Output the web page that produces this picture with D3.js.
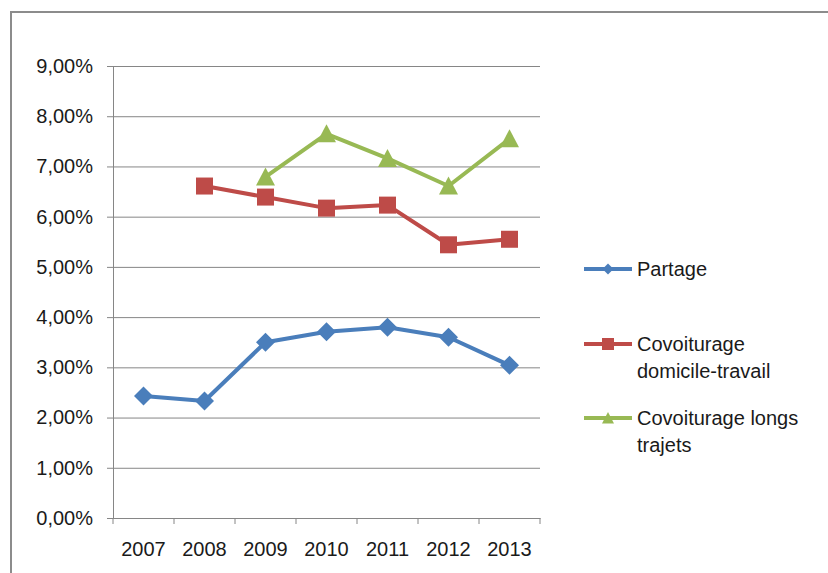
<!DOCTYPE html>
<html>
  <head>
    <meta charset="utf-8">
    <script src="https://d3js.org/d3.v7.min.js"></script>
    <style>
      body { margin: 0; background: #fff; }
      text { font-family: "Liberation Sans", Arial, sans-serif; fill: #1a1a1a; }
      .axis path { stroke: #868686; }
      .axis line { stroke: #868686; }
      .gridline line { stroke: #868686; }
      .gridline path { display: none; }
    </style>
  </head>
  <body>
    <script>
      var years = ["2007", "2008", "2009", "2010", "2011", "2012", "2013"];
      var partage = [2.43, 2.33, 3.50, 3.71, 3.80, 3.60, 3.04];
      var domicileTravail = [null, 6.61, 6.39, 6.17, 6.23, 5.44, 5.55];
      var longsTrajets = [null, null, 6.79, 7.65, 7.16, 6.61, 7.55];
      var yTicks = [0, 1, 2, 3, 4, 5, 6, 7, 8, 9];

      var series = [
        {name: ["Partage"], values: partage, color: "#4a7ebb", shape: "diamond"},
        {name: ["Covoiturage", "domicile-travail"], values: domicileTravail, color: "#be4b48", shape: "square"},
        {name: ["Covoiturage longs", "trajets"], values: longsTrajets, color: "#98b954", shape: "triangle"}
      ];

      var margin = {top: 66, left: 113};
      var width = 427, height = 452;
      var fontSize = "20px";

      var svg = d3.select("body").append("svg")
          .attr("width", 828)
          .attr("height", 573);

      // outer chart frame (cut off on right and bottom)
      svg.append("rect")
          .attr("x", 11).attr("y", 12)
          .attr("width", 900).attr("height", 700)
          .attr("fill", "none")
          .attr("stroke", "#8c8c8c")
          .attr("stroke-width", 2);

      var g = svg.append("g")
          .attr("transform", "translate(" + margin.left + "," + margin.top + ")");

      var x = d3.scaleBand().domain(years).range([0, width]).padding(0);
      var y = d3.scaleLinear().domain([0, 9]).range([height, 0]);

      // gridlines
      g.append("g")
          .attr("class", "gridline")
          .call(d3.axisLeft(y).tickValues(yTicks).tickSize(-width).tickFormat(""));

      // y axis
      g.append("g")
          .attr("class", "axis")
          .call(d3.axisLeft(y).tickValues(yTicks).tickSize(6).tickPadding(14).tickSizeOuter(0)
            .tickFormat(function(d) { return d.toFixed(2).replace(".", ",") + "%"; }))
          .selectAll("text").style("font-size", fontSize);

      // x axis
      var xAxisG = g.append("g")
          .attr("class", "axis")
          .attr("transform", "translate(0," + height + ")")
          .call(d3.axisBottom(x).tickSize(0).tickPadding(24).tickSizeOuter(0));
      xAxisG.selectAll("text").style("font-size", fontSize);
      xAxisG.selectAll(".tick line").remove();
      var edges = years.map(function(d) { return x(d); }).concat([width]);
      xAxisG.selectAll(".edge").data(edges).enter().append("line")
          .attr("x1", function(d) { return d; }).attr("x2", function(d) { return d; })
          .attr("y1", 0).attr("y2", 6)
          .attr("stroke", "#868686");

      function markerPath(shape, s) {
        var h = s / 2;
        if (shape === "diamond") return "M0," + (-h) + "L" + h + ",0L0," + h + "L" + (-h) + ",0Z";
        if (shape === "square") return "M" + (-h) + "," + (-h) + "H" + h + "V" + h + "H" + (-h) + "Z";
        return "M0," + (-h) + "L" + h + "," + (h * 0.9) + "L" + (-h) + "," + (h * 0.9) + "Z";
      }
      var markerSize = {diamond: 19, square: 17, triangle: 19};
      var legendSize = {diamond: 11, square: 12, triangle: 12};

      var line = d3.line()
          .defined(function(d) { return d.v !== null; })
          .x(function(d) { return x(d.year) + x.bandwidth() / 2; })
          .y(function(d) { return y(d.v); });

      series.forEach(function(s) {
        var pts = years.map(function(yr, i) { return {year: yr, v: s.values[i]}; });
        g.append("path")
            .datum(pts)
            .attr("fill", "none")
            .attr("stroke", s.color)
            .attr("stroke-width", 4)
            .attr("stroke-linejoin", "round")
            .attr("d", line);
        g.selectAll(null)
            .data(pts.filter(function(d) { return d.v !== null; }))
            .enter().append("path")
            .attr("transform", function(d) {
              return "translate(" + (x(d.year) + x.bandwidth() / 2) + "," + y(d.v) + ")";
            })
            .attr("d", markerPath(s.shape, markerSize[s.shape]))
            .attr("fill", s.color);
      });

      // legend
      var legendY = [269, 344, 418];
      series.forEach(function(s, i) {
        var lg = svg.append("g").attr("transform", "translate(584," + legendY[i] + ")");
        lg.append("line")
            .attr("x1", 0).attr("x2", 48)
            .attr("stroke", s.color).attr("stroke-width", 4);
        lg.append("path")
            .attr("transform", "translate(24,0)")
            .attr("d", markerPath(s.shape, legendSize[s.shape]))
            .attr("fill", s.color);
        s.name.forEach(function(t, j) {
          lg.append("text")
              .attr("x", 53)
              .attr("y", 7 + j * 27)
              .style("font-size", fontSize)
              .text(t);
        });
      });
    </script>
  </body>
</html>
